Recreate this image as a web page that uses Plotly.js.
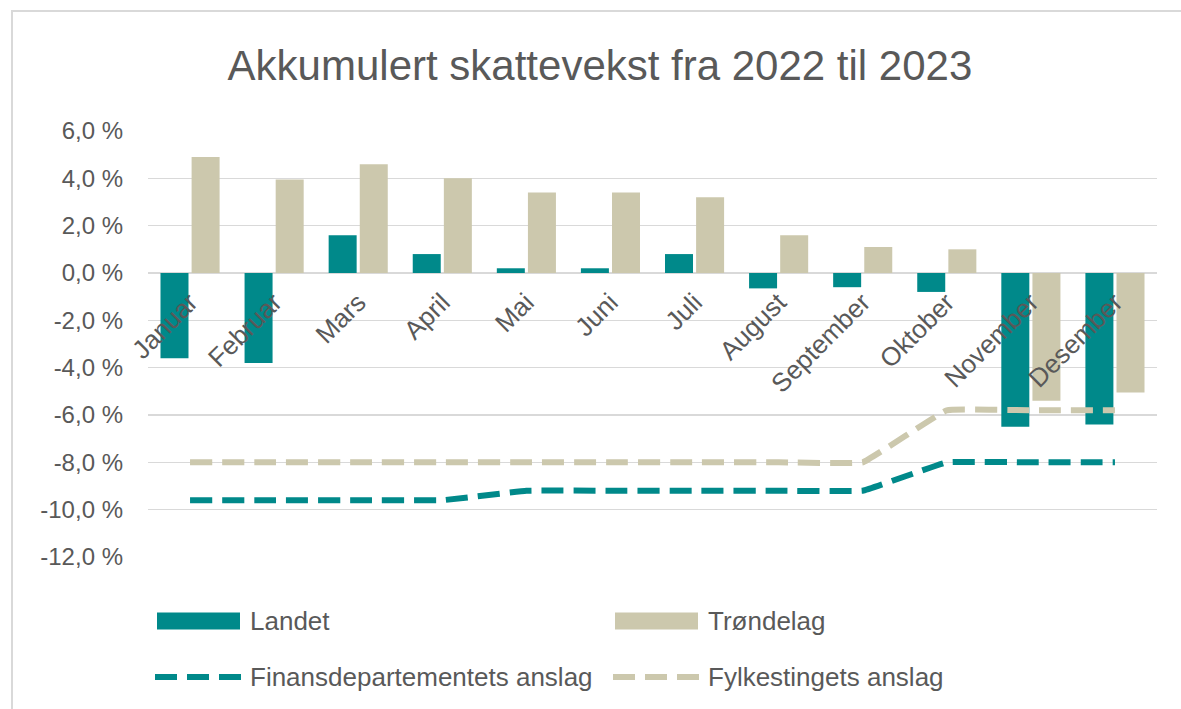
<!DOCTYPE html>
<html>
<head>
<meta charset="utf-8">
<script src="https://cdn.plot.ly/plotly-3.0.1.min.js"></script>
<style>
html,body{margin:0;padding:0;background:#fff;overflow:hidden;}
#chart{width:1181px;height:709px;}
</style>
</head>
<body>
<div id="chart"></div>
<script>
const months = ["Januar","Februar","Mars","April","Mai","Juni","Juli","August","September","Oktober","November","Desember"];
const landet = [-3.6,-3.8,1.6,0.8,0.2,0.2,0.8,-0.65,-0.6,-0.8,-6.5,-6.4];
const trondelag = [4.9,3.95,4.6,4.0,3.4,3.4,3.2,1.6,1.1,1.0,-5.4,-5.05];
const finansAnslag = [-9.6,-9.6,-9.6,-9.6,-9.2,-9.2,-9.2,-9.2,-9.2,-8.0,-8.0,-8.0];
const fylkeAnslag = [-8.0,-8.0,-8.0,-8.0,-8.0,-8.0,-8.0,-8.0,-8.0,-5.8,-5.8,-5.8];
const yTickVals = [6,4,2,0,-2,-4,-6,-8,-10,-12];
const yTickText = ["6,0 %","4,0 %","2,0 %","0,0 %","-2,0 %","-4,0 %","-6,0 %","-8,0 %","-10,0 %","-12,0 %"];
const seriesNames = ["Landet","Trøndelag","Finansdepartementets anslag","Fylkestingets anslag"];

const TEAL = "#00898a";
const KHAKI = "#ccc8ad";
const GREY = "#595959";
const FONT = "Liberation Sans, Arial, sans-serif";

const traces = [
  {type:"bar", x:months, y:landet, name:seriesNames[0], marker:{color:TEAL}, showlegend:false},
  {type:"bar", x:months, y:trondelag, name:seriesNames[1], marker:{color:KHAKI}, showlegend:false},
  {type:"scatter", mode:"lines", x:months, y:finansAnslag, name:seriesNames[2], line:{color:TEAL, width:6, dash:"22px,10px", shape:"spline", smoothing:0.2}, showlegend:false},
  {type:"scatter", mode:"lines", x:months, y:fylkeAnslag, name:seriesNames[3], line:{color:KHAKI, width:6, dash:"22px,10px", shape:"spline", smoothing:0.2}, showlegend:false}
];

// layout geometry (pixels)
const W = 1181, H = 709, L = 148, R = 24, T = 131, B = 152;
const pw = W - L - R, ph = H - T - B;
const px = v => (v - L) / pw;
const py = v => (H - B - v) / ph;

const shapes = [
  // chart frame (left and top edges visible)
  {type:"line", xref:"paper", yref:"paper", x0:px(12), x1:px(12), y0:py(11), y1:py(H+10), line:{color:"#d9d9d9", width:2}},
  {type:"line", xref:"paper", yref:"paper", x0:px(11), x1:px(W+10), y0:py(11), y1:py(11), line:{color:"#d9d9d9", width:2}}
];
const annotations = [];
// custom legend
const legendItems = [
  {kind:"bar", color:TEAL, x:157, y:621, name:seriesNames[0]},
  {kind:"bar", color:KHAKI, x:615, y:621, name:seriesNames[1]},
  {kind:"line", color:TEAL, x:157, y:677, name:seriesNames[2]},
  {kind:"line", color:KHAKI, x:615, y:677, name:seriesNames[3]}
];
legendItems.forEach(it => {
  if (it.kind === "bar") {
    shapes.push({type:"rect", xref:"paper", yref:"paper", x0:px(it.x), x1:px(it.x+83), y0:py(it.y+8.5), y1:py(it.y-8.5), fillcolor:it.color, line:{width:0}});
  } else {
    shapes.push({type:"line", xref:"paper", yref:"paper", x0:px(it.x-2), x1:px(it.x+85), y0:py(it.y), y1:py(it.y), line:{color:it.color, width:6, dash:"22px,10px"}});
  }
  annotations.push({xref:"paper", yref:"paper", x:px(it.x+91), y:py(it.y), xanchor:"left", yanchor:"middle", showarrow:false, text:it.name, font:{family:FONT, size:26, color:GREY}});
});

const layout = {
  width:W, height:H,
  margin:{l:L, r:R, t:T, b:B, pad:0},
  paper_bgcolor:"#fff", plot_bgcolor:"#fff",
  title:{text:"Akkumulert skattevekst fra 2022 til 2023", font:{family:FONT, size:42, color:GREY}, x:0.508, xanchor:"center", y:0.908, yanchor:"middle"},
  barmode:"group", bargap:0.26, bargroupgap:0.1,
  xaxis:{type:"category", anchor:"free", position:12/18, showline:false, showgrid:false, zeroline:false, ticks:"", tickangle:-45,
         ticklabelstandoff:8, tickfont:{family:FONT, size:26, color:GREY}, range:[-0.5,11.5]},
  yaxis:{range:[-12,6], tickvals:yTickVals, ticktext:yTickText, showgrid:true, gridcolor:"#d9d9d9", gridwidth:1.5,
         zeroline:true, zerolinecolor:"#d9d9d9", zerolinewidth:1.5, showline:false, ticks:"", ticklabelstandoff:24,
         tickfont:{family:FONT, size:24, color:GREY}},
  shapes:shapes,
  annotations:annotations,
  showlegend:false
};

Plotly.newPlot("chart", traces, layout, {displayModeBar:false, staticPlot:true});
</script>
</body>
</html>
